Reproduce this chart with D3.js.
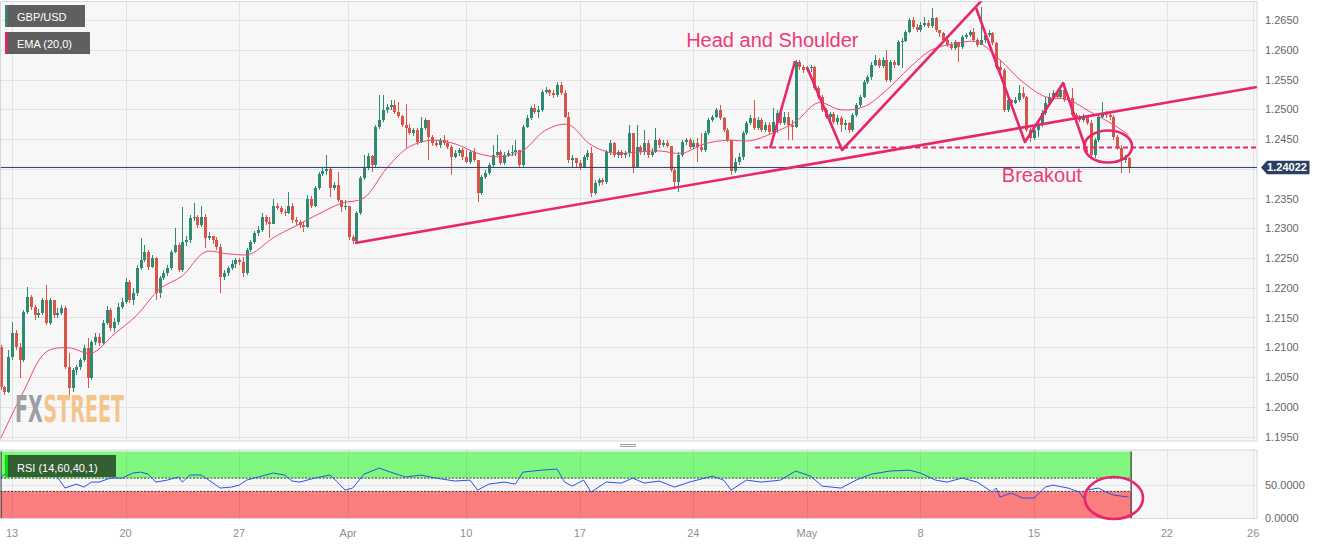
<!DOCTYPE html>
<html><head><meta charset="utf-8">
<script src="https://cdn.jsdelivr.net/npm/d3@7"></script>
<style>body{margin:0;background:#fff}svg{display:block;font-family:"Liberation Sans",Arial,sans-serif}</style>
</head><body><svg id="c" width="1328" height="545"></svg>
<script>
// ---------- DATA ----------
const symbol = "GBP/USD";
const emaLabel = "EMA (20,0)";
const rsiLabel = "RSI (14,60,40,1)";
const firstBar = -3;          // bar index of first candle (4H bars, 0 = Mon 13 Mar)
const firstOpen = 1.2100;
const closes = [
1.2033,1.2025,1.2084,
1.2124,1.2100,1.2079,1.2159,1.2184,1.2168,
1.2154,1.2158,1.2179,1.2141,1.2179,1.2154,
1.2158,1.2166,1.2067,1.2031,1.2062,1.2067,
1.2079,1.2099,1.2048,1.2109,1.2117,1.2107,
1.2141,1.2163,1.2132,1.2142,1.2168,1.2176,
1.2210,1.2179,1.2191,1.2233,1.2246,1.2260,
1.2235,1.2250,1.2191,1.2216,1.2225,1.2233,
1.2260,1.2272,1.2230,1.2277,1.2280,1.2317,
1.2319,1.2305,1.2319,1.2283,1.2287,1.2280,
1.2268,1.2218,1.2225,1.2233,1.2240,1.2246,
1.2243,1.2225,1.2263,1.2277,1.2292,1.2297,
1.2319,1.2310,1.2307,1.2338,1.2334,1.2327,
1.2326,1.2338,1.2314,1.2310,1.2305,1.2302,
1.2350,1.2338,1.2367,1.2391,1.2396,1.2400,
1.2367,1.2373,1.2347,1.2335,1.2338,1.2285,
1.2279,1.2326,1.2384,1.2401,1.2421,1.2406,
1.2470,1.2482,1.2499,1.2504,1.2507,1.2495,
1.2488,1.2474,1.2468,1.2460,1.2465,1.2445,
1.2468,1.2482,1.2453,1.2443,1.2440,1.2448,
1.2443,1.2436,1.2419,1.2426,1.2431,1.2419,
1.2411,1.2428,1.2414,1.2359,1.2386,1.2393,
1.2406,1.2423,1.2428,1.2410,1.2423,1.2426,
1.2428,1.2431,1.2406,1.2470,1.2485,1.2502,
1.2495,1.2499,1.2529,1.2532,1.2527,1.2524,
1.2541,1.2527,1.2487,1.2414,1.2418,1.2410,
1.2403,1.2419,1.2426,1.2359,1.2376,1.2381,
1.2378,1.2428,1.2443,1.2423,1.2428,1.2423,
1.2426,1.2460,1.2403,1.2436,1.2428,1.2443,
1.2423,1.2428,1.2448,1.2440,1.2443,1.2438,
1.2398,1.2378,1.2423,1.2445,1.2448,1.2436,
1.2443,1.2436,1.2431,1.2460,1.2482,1.2487,
1.2499,1.2485,1.2465,1.2448,1.2396,1.2411,
1.2419,1.2460,1.2477,1.2485,1.2468,1.2482,
1.2465,1.2474,1.2462,1.2479,1.2494,1.2477,
1.2487,1.2474,1.2470,1.2579,1.2571,1.2566,
1.2569,1.2571,1.2536,1.2521,1.2499,1.2487,
1.2492,1.2479,1.2485,1.2474,1.2477,1.2465,
1.2490,1.2507,1.2521,1.2546,1.2554,1.2574,
1.2583,1.2573,1.2583,1.2549,1.2579,1.2574,
1.2613,1.2615,1.2630,1.2650,1.2638,1.2633,
1.2642,1.2645,1.2640,1.2653,1.2633,1.2628,
1.2616,1.2608,1.2603,1.2613,1.2605,1.2621,
1.2625,1.2630,1.2616,1.2608,1.2616,1.2625,
1.2628,1.2611,1.2571,1.2566,1.2499,1.2516,
1.2511,1.2516,1.2527,1.2521,1.2465,1.2451,
1.2465,1.2474,1.2494,1.2511,1.2521,1.2527,
1.2521,1.2532,1.2516,1.2519,1.2490,1.2487,
1.2482,1.2487,1.2477,1.2423,1.2448,1.2487,
1.2494,1.2490,1.2487,1.2453,1.2435,1.2414,
1.2418,1.24022];
const highs = [
1.2104,1.2035,1.2095,
1.2142,1.2129,1.2107,1.2163,1.2201,1.2188,
1.2171,1.2164,1.2183,1.2205,1.2183,1.2179,
1.2166,1.2171,1.2169,1.2090,1.2065,1.2070,
1.2082,1.2104,1.2116,1.2112,1.2124,1.2124,
1.2146,1.2169,1.2166,1.2149,1.2174,1.2183,
1.2216,1.2213,1.2200,1.2238,1.2283,1.2272,
1.2263,1.2255,1.2251,1.2220,1.2230,1.2238,
1.2263,1.2300,1.2275,1.2335,1.2287,1.2322,
1.2342,1.2322,1.2337,1.2324,1.2293,1.2287,
1.2285,1.2273,1.2230,1.2237,1.2246,1.2250,
1.2250,1.2251,1.2266,1.2280,1.2295,1.2304,
1.2326,1.2322,1.2319,1.2350,1.2342,1.2338,
1.2332,1.2361,1.2342,1.2319,1.2314,1.2310,
1.2356,1.2354,1.2371,1.2395,1.2401,1.2423,
1.2403,1.2378,1.2395,1.2347,1.2347,1.2338,
1.2289,1.2329,1.2388,1.2423,1.2426,1.2423,
1.2474,1.2524,1.2524,1.2509,1.2516,1.2516,
1.2512,1.2490,1.2509,1.2475,1.2468,1.2468,
1.2487,1.2485,1.2482,1.2457,1.2448,1.2451,
1.2457,1.2448,1.2440,1.2431,1.2435,1.2435,
1.2431,1.2431,1.2435,1.2414,1.2389,1.2398,
1.2410,1.2440,1.2457,1.2431,1.2428,1.2431,
1.2440,1.2448,1.2431,1.2474,1.2490,1.2505,
1.2509,1.2505,1.2532,1.2537,1.2534,1.2532,
1.2546,1.2546,1.2532,1.2495,1.2423,1.2418,
1.2414,1.2423,1.2431,1.2436,1.2381,1.2384,
1.2384,1.2431,1.2448,1.2445,1.2431,1.2431,
1.2430,1.2474,1.2460,1.2474,1.2440,1.2465,
1.2448,1.2435,1.2468,1.2451,1.2448,1.2448,
1.2438,1.2401,1.2428,1.2448,1.2451,1.2451,
1.2448,1.2451,1.2460,1.2463,1.2485,1.2490,
1.2502,1.2507,1.2487,1.2468,1.2448,1.2418,
1.2426,1.2463,1.2480,1.2490,1.2516,1.2487,
1.2485,1.2479,1.2479,1.2502,1.2499,1.2502,
1.2495,1.2495,1.2482,1.2583,1.2583,1.2574,
1.2573,1.2574,1.2573,1.2539,1.2524,1.2502,
1.2495,1.2495,1.2490,1.2488,1.2482,1.2479,
1.2494,1.2511,1.2524,1.2549,1.2558,1.2579,
1.2591,1.2586,1.2588,1.2600,1.2583,1.2583,
1.2616,1.2620,1.2633,1.2653,1.2655,1.2643,
1.2647,1.2655,1.2650,1.2670,1.2655,1.2633,
1.2630,1.2620,1.2613,1.2616,1.2608,1.2625,
1.2628,1.2633,1.2637,1.2620,1.2672,1.2630,
1.2633,1.2630,1.2613,1.2583,1.2569,1.2519,
1.2517,1.2521,1.2541,1.2537,1.2522,1.2468,
1.2470,1.2479,1.2499,1.2521,1.2527,1.2532,
1.2532,1.2536,1.2544,1.2522,1.2536,1.2494,
1.2490,1.2492,1.2490,1.2482,1.2451,1.2490,
1.2512,1.2497,1.2494,1.2490,1.2457,1.2440,
1.2423,1.2419];
const lows = [
1.2028,1.2020,1.2023,
1.2079,1.2095,1.2048,1.2075,1.2156,1.2163,
1.2146,1.2149,1.2154,1.2137,1.2137,1.2149,
1.2149,1.2154,1.2064,1.2015,1.2025,1.2053,
1.2062,1.2075,1.2031,1.2045,1.2104,1.2102,
1.2104,1.2137,1.2127,1.2126,1.2137,1.2164,
1.2173,1.2174,1.2171,1.2186,1.2230,1.2243,
1.2230,1.2233,1.2179,1.2183,1.2213,1.2220,
1.2230,1.2258,1.2226,1.2226,1.2270,1.2275,
1.2312,1.2300,1.2302,1.2266,1.2280,1.2273,
1.2263,1.2191,1.2213,1.2220,1.2230,1.2233,
1.2238,1.2218,1.2221,1.2260,1.2273,1.2287,
1.2293,1.2305,1.2283,1.2307,1.2330,1.2324,
1.2321,1.2324,1.2309,1.2305,1.2300,1.2293,
1.2300,1.2334,1.2335,1.2364,1.2388,1.2389,
1.2352,1.2364,1.2344,1.2327,1.2330,1.2280,
1.2273,1.2275,1.2322,1.2381,1.2398,1.2395,
1.2403,1.2467,1.2479,1.2494,1.2499,1.2492,
1.2485,1.2470,1.2435,1.2457,1.2455,1.2440,
1.2443,1.2465,1.2414,1.2438,1.2436,1.2435,
1.2440,1.2433,1.2389,1.2418,1.2421,1.2414,
1.2410,1.2408,1.2411,1.2344,1.2356,1.2383,
1.2389,1.2403,1.2421,1.2406,1.2406,1.2419,
1.2421,1.2421,1.2401,1.2403,1.2468,1.2482,
1.2492,1.2485,1.2495,1.2526,1.2522,1.2519,
1.2521,1.2524,1.2485,1.2410,1.2401,1.2401,
1.2398,1.2401,1.2414,1.2352,1.2356,1.2371,
1.2373,1.2374,1.2423,1.2419,1.2418,1.2418,
1.2418,1.2419,1.2393,1.2403,1.2423,1.2423,
1.2418,1.2419,1.2426,1.2435,1.2436,1.2435,
1.2395,1.2369,1.2361,1.2419,1.2440,1.2433,
1.2433,1.2411,1.2428,1.2428,1.2457,1.2479,
1.2485,1.2482,1.2462,1.2445,1.2389,1.2393,
1.2406,1.2414,1.2457,1.2474,1.2465,1.2465,
1.2462,1.2462,1.2458,1.2460,1.2460,1.2474,
1.2474,1.2448,1.2448,1.2468,1.2566,1.2561,
1.2563,1.2563,1.2532,1.2517,1.2495,1.2484,
1.2482,1.2475,1.2474,1.2462,1.2465,1.2460,
1.2462,1.2487,1.2504,1.2519,1.2542,1.2549,
1.2573,1.2569,1.2569,1.2546,1.2546,1.2569,
1.2573,1.2569,1.2613,1.2628,1.2635,1.2630,
1.2630,1.2638,1.2637,1.2637,1.2630,1.2621,
1.2613,1.2605,1.2600,1.2600,1.2579,1.2601,
1.2618,1.2621,1.2613,1.2605,1.2610,1.2611,
1.2621,1.2608,1.2568,1.2563,1.2495,1.2495,
1.2507,1.2509,1.2512,1.2517,1.2462,1.2445,
1.2448,1.2453,1.2470,1.2490,1.2507,1.2517,
1.2517,1.2519,1.2512,1.2512,1.2487,1.2482,
1.2479,1.2479,1.2474,1.2419,1.2418,1.2445,
1.2485,1.2485,1.2482,1.2448,1.2431,1.2393,
1.2410,1.2393];

const emaBars   = [-3,3,9,15,21,27,33,39,45,51,57,63,69,75,81,87,93,99,105,111,117,123,129,135,141,147,153,159,165,171,177,183,189,195,201,207,213,219,225,231,237,243,249,255,261,267,273,279,285,291,295];
const emaValues = [1.1947,1.2025,1.2092,1.2099,1.2090,1.2122,1.2154,1.2198,1.2220,1.2260,1.2257,1.2257,1.2284,1.2304,1.2324,1.2342,1.2351,1.2401,1.2437,1.2448,1.2442,1.2426,1.2420,1.2431,1.2465,1.2474,1.2440,1.2426,1.2428,1.2430,1.2426,1.2442,1.2448,1.2447,1.2460,1.2479,1.2511,1.2499,1.2504,1.2532,1.2569,1.2600,1.2610,1.2613,1.2583,1.2546,1.2521,1.2516,1.2495,1.2474,1.2457];

const rsiBars   = [-3,-1,2,5,7,10,12,14,17,19,21,23,26,29,32,34,36,38,41,44,45,47,50,52,55,58,60,62,65,67,69,72,74,76,80,84,86,88,90,93,97,100,104,108,112,117,121,123,126,130,133,135,140,144,146,148,151,153,157,161,164,167,171,175,179,185,188,190,194,198,203,207,211,214,219,223,227,232,237,240,244,247,251,255,259,260,261,264,267,270,273,275,279,282,283,284,287,289,291,295];
const rsiValues = [61.6,69,67.6,67.6,64.6,67.6,61.6,45,51,46.5,54,54,60,60,67.6,69,66,54,57,61.6,54,64.6,64.6,57,45,46.5,49.5,57,61.6,64.6,67.6,64.6,55.6,54,60,64.6,54,42,45,66,75,69,61.6,64.6,60,55.6,57,42,51,54,51,69,72,73.6,54,48,57,39,54,52.5,60,52.5,55.6,46.5,54,63,57,42,57,54,57,70.6,63,48,45,57,66,70.6,72,67.6,57,54,60,54,39,45,31.5,37.5,30,30,46.5,49.5,45,39,30,42,45,39,34.5,31.5];

const dateLabels = ["13","20","27","Apr","10","17","24","May","8","15","22","26"];
const dateBars   = [0,30,60,88.8,120,150,180,210,240,270,305.1,327.9];
const priceTicks = [1.1950,1.2000,1.2050,1.2100,1.2150,1.2200,1.2250,1.2300,1.2350,1.2400,1.2450,1.2500,1.2550,1.2600,1.2650];
const rsiTicks = [0,50];
const rsiUpper = 60, rsiLower = 40;
const lastPrice = 1.24022;

// annotations (bar index, price)
const trendLine = [[90.6,1.22752],[328.9,1.25374]];
const neckLine  = [[196.3,1.24358],[328.9,1.24358]];
const hsSegments = [
  [[200.3,1.24349],[206.9,1.25811]],
  [[210.0,1.25710],[219.3,1.24315],[256.3,1.26836]],
  [[254.7,1.26702],[267.6,1.24449],[277.7,1.25441],[284.0,1.24281]]
];
const breakoutEllipse = {bar:289.6, price:1.24374, bars:6.3, dprice:0.00269};
const rsiEllipse = {bar:291.1, rsi:30, bars:7.7, drsi:31.6};
const hsText = {label:"Head and Shoulder", bar:178.1, price:1.26046};
const boText = {label:"Breakout", bar:261.5, price:1.23777};

// ---------- DRAW ----------
const svg = d3.select("#c");
const W = 1328;
const plotL = 0.5, plotR = 1257, mainT = 1.5, mainB = 441, rsiT = 450, rsiB = 518.5;
const x = d3.scaleLinear().domain([0,270]).range([12,1034]);
const y = d3.scaleLinear().domain([1.1950,1.2650]).range([436.5,20]);
const yr = d3.scaleLinear().domain([0,100]).range([518,451.5]);
const pink = "#e8266b";
const green = "#2e8b72", red = "#d6564a";

svg.append("rect").attr("width",W).attr("height",545).attr("fill","#fff");
const defs = svg.append("defs");
defs.append("clipPath").attr("id","cm").append("rect").attr("x",plotL).attr("y",mainT).attr("width",plotR-plotL).attr("height",mainB-mainT);
defs.append("clipPath").attr("id","cr").append("rect").attr("x",plotL).attr("y",rsiT).attr("width",plotR-plotL).attr("height",rsiB-rsiT);

// panels
svg.append("rect").attr("x",plotL).attr("y",mainT).attr("width",plotR-plotL).attr("height",mainB-mainT).attr("fill","#f7f7f7").attr("stroke","#d3d8e6");
svg.append("rect").attr("x",plotL).attr("y",rsiT).attr("width",plotR-plotL).attr("height",rsiB-rsiT).attr("fill","#f7f7f7").attr("stroke","#d3d8e6");

// grid main
const gm = svg.append("g").attr("clip-path","url(#cm)");
gm.selectAll("line.h").data(priceTicks).join("line").attr("x1",plotL).attr("x2",plotR)
  .attr("y1",d=>Math.round(y(d))+0.5).attr("y2",d=>Math.round(y(d))+0.5).attr("stroke","#e3e3e3");
gm.selectAll("line.v").data(dateBars).join("line").attr("y1",mainT).attr("y2",mainB)
  .attr("x1",d=>Math.round(x(d))+0.5).attr("x2",d=>Math.round(x(d))+0.5).attr("stroke","#e3e3e3");

// logo watermark: natural-width bold text, scaled to the logo box (x 15..124, cap height ~27)
const logo = svg.append("g")
  .attr("font-family","'Liberation Sans Narrow','DejaVu Sans Condensed',sans-serif").attr("font-weight","bold").attr("font-size",25);
const fx = logo.append("text").attr("x",0).attr("y",0).attr("fill","#9c9ea5").text("FX");
const fxW = fx.node().getComputedTextLength();
const st = logo.append("text").attr("x",fxW+1).attr("y",0).attr("fill","#f3c48c").text("STREET");
const totW = fxW + 1 + st.node().getComputedTextLength();
logo.attr("transform",`translate(15,422) scale(${109/totW},1.48)`);

// candles
const bars = closes.map((c,k)=>({i:firstBar+k, o:k===0?firstOpen:closes[k-1], h:highs[k], l:lows[k], c}));
const gc = gm.append("g").attr("shape-rendering","crispEdges");
gc.selectAll("line.w").data(bars).join("line")
  .attr("x1",d=>Math.round(x(d.i))+0.5).attr("x2",d=>Math.round(x(d.i))+0.5)
  .attr("y1",d=>y(Math.max(d.h,d.o,d.c))).attr("y2",d=>y(Math.min(d.l,d.o,d.c)))
  .attr("stroke",d=>d.c>=d.o?green:red);
gc.selectAll("rect").data(bars).join("rect")
  .attr("x",d=>Math.round(x(d.i))-1).attr("width",3)
  .attr("y",d=>y(Math.max(d.o,d.c)))
  .attr("height",d=>Math.max(1,Math.abs(y(d.o)-y(d.c))))
  .attr("fill",d=>d.c>=d.o?green:red);

// EMA
const emaPts = emaBars.map((b,k)=>[b,emaValues[k]]);
gm.append("path").datum(emaPts).attr("fill","none").attr("stroke","#f0457a").attr("stroke-width",1)
  .attr("d",d3.line().x(d=>x(d[0])).y(d=>y(d[1])).curve(d3.curveCatmullRom));

// last price line
gm.append("line").attr("x1",plotL).attr("x2",plotR).attr("y1",y(lastPrice)).attr("y2",y(lastPrice)).attr("stroke","#2b3f60").attr("stroke-width",1);

// annotations
const ln = d3.line().x(d=>x(d[0])).y(d=>y(d[1]));
gm.append("path").attr("d",ln(trendLine)).attr("stroke",pink).attr("stroke-width",2.6).attr("fill","none");
gm.append("path").attr("d",ln(neckLine)).attr("stroke",pink).attr("stroke-width",2).attr("stroke-dasharray","5,3").attr("fill","none");
hsSegments.forEach(s=>gm.append("path").attr("d",ln(s)).attr("stroke",pink).attr("stroke-width",2.6).attr("fill","none").attr("stroke-linejoin","round"));
gm.append("ellipse").attr("cx",x(breakoutEllipse.bar)).attr("cy",y(breakoutEllipse.price))
  .attr("rx",x(breakoutEllipse.bar+breakoutEllipse.bars)-x(breakoutEllipse.bar))
  .attr("ry",y(breakoutEllipse.price-breakoutEllipse.dprice)-y(breakoutEllipse.price))
  .attr("fill","none").attr("stroke",pink).attr("stroke-width",2.6);
[hsText,boText].forEach(t=>svg.append("text").attr("x",x(t.bar)).attr("y",y(t.price)).attr("font-size",20).attr("fill","#ec3a74").text(t.label));

// legends
function legend(yy,w,stripe,label){
  const g = svg.append("g");
  g.append("rect").attr("x",5).attr("y",yy).attr("width",w).attr("height",22).attr("fill","#5f5f5f");
  g.append("rect").attr("x",5).attr("y",yy).attr("width",2.5).attr("height",22).attr("fill",stripe);
  g.append("text").attr("x",17).attr("y",yy+15.7).attr("font-size",11).attr("fill","#fff").text(label);
}
legend(5,80,"#2e8b72",symbol);
legend(32,85,"#e8246a",emaLabel);

// y axis labels (the last-price tag replaces the tick label it covers)
const ty = y(lastPrice);
svg.append("g").selectAll("text").data(priceTicks.filter(d=>Math.abs(y(d)-ty)>11)).join("text")
  .attr("x",1265).attr("y",d=>y(d)+4).attr("font-size",11).attr("fill","#666").text(d=>d.toFixed(4));

// price tag
svg.append("path").attr("d",`M1261,${ty} L1267,${ty-6.7} L1309.5,${ty-6.7} L1309.5,${ty+6.7} L1267,${ty+6.7} Z`).attr("fill","#2b3f60");
svg.append("text").attr("x",1287).attr("y",ty+4).attr("text-anchor","middle").attr("font-size",11).attr("font-weight","bold").attr("fill","#fff").text(lastPrice.toFixed(5));

// panel separator handle
svg.append("line").attr("x1",620).attr("x2",636).attr("y1",444.5).attr("y2",444.5).attr("stroke","#9a9a9a");
svg.append("line").attr("x1",620).attr("x2",636).attr("y1",446.5).attr("y2",446.5).attr("stroke","#9a9a9a");

// RSI panel
const gr = svg.append("g").attr("clip-path","url(#cr)");
const zoneR = x(firstBar + closes.length - 1) + 2.5;
gr.append("rect").attr("x",plotL).attr("y",yr(100)).attr("width",zoneR-plotL).attr("height",yr(rsiUpper)-yr(100)).attr("fill","#80f880");
gr.append("rect").attr("x",plotL).attr("y",yr(rsiLower)).attr("width",zoneR-plotL).attr("height",yr(0)-yr(rsiLower)).attr("fill","#fa7e7e");
gr.selectAll("line.v").data(dateBars).join("line").attr("y1",rsiT).attr("y2",rsiB)
  .attr("x1",d=>Math.round(x(d))+0.5).attr("x2",d=>Math.round(x(d))+0.5).attr("stroke","rgba(0,0,0,0.07)");
gr.selectAll("line.h").data([50]).join("line").attr("x1",plotL).attr("x2",plotR)
  .attr("y1",d=>Math.round(yr(d))+0.5).attr("y2",d=>Math.round(yr(d))+0.5).attr("stroke","rgba(0,0,0,0.07)");
[rsiUpper,rsiLower].forEach(v=>gr.append("line").attr("x1",plotL).attr("x2",zoneR).attr("y1",yr(v)).attr("y2",yr(v)).attr("stroke","#111").attr("stroke-width",0.8).attr("stroke-dasharray","2,1.5"));
gr.append("line").attr("x1",zoneR).attr("x2",zoneR).attr("y1",yr(100)).attr("y2",yr(0)).attr("stroke","#111");
gr.append("line").attr("x1",1).attr("x2",1).attr("y1",yr(100)).attr("y2",yr(0)).attr("stroke","#111");
const rsiPts = rsiBars.map((b,k)=>[b,rsiValues[k]]);
gr.append("path").datum(rsiPts).attr("fill","none").attr("stroke","#2a50e8").attr("stroke-width",1)
  .attr("d",d3.line().x(d=>x(d[0])).y(d=>yr(d[1])));
svg.append("ellipse").attr("cx",x(rsiEllipse.bar)).attr("cy",yr(rsiEllipse.rsi))
  .attr("rx",x(rsiEllipse.bar+rsiEllipse.bars)-x(rsiEllipse.bar))
  .attr("ry",yr(rsiEllipse.rsi-rsiEllipse.drsi)-yr(rsiEllipse.rsi))
  .attr("fill","none").attr("stroke",pink).attr("stroke-width",2.6);

// RSI label
svg.append("rect").attr("x",5).attr("y",455).attr("width",111).attr("height",22).attr("fill","#335f33");
svg.append("rect").attr("x",5).attr("y",455).attr("width",3).attr("height",22).attr("fill","#00e000");
svg.append("text").attr("x",17).attr("y",471.5).attr("font-size",11).attr("fill","#fff").text(rsiLabel);

// RSI axis labels
svg.append("g").selectAll("text").data(rsiTicks).join("text")
  .attr("x",1265).attr("y",d=>yr(d)+4).attr("font-size",11).attr("fill","#666").text(d=>d.toFixed(4));

// x axis labels
svg.append("g").selectAll("text").data(dateLabels).join("text")
  .attr("x",(d,k)=>x(dateBars[k])).attr("y",537).attr("text-anchor","middle")
  .attr("font-size",11).attr("fill","#8f8f8f").text(d=>d);
</script></body></html>
